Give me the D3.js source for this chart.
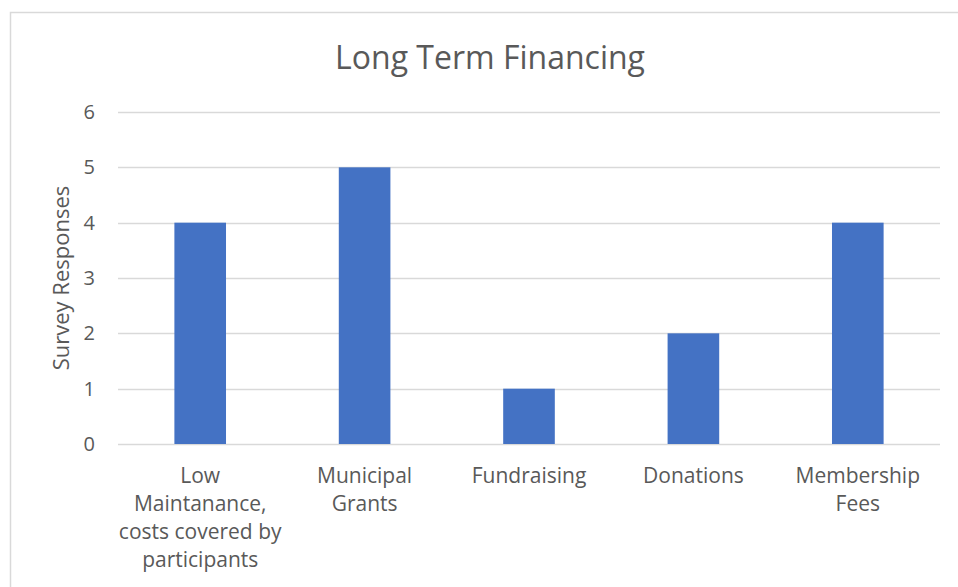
<!DOCTYPE html>
<html>
<head>
<meta charset="utf-8">
<script src="https://d3js.org/d3.v7.min.js"></script>
<style>
  body { margin: 0; background: #fff; }
  text { font-family: "Open Sans", sans-serif; fill: #595959; }
</style>
</head>
<body>
<div id="chart"></div>
<script>
var categories = [
  ["Low", "Maintanance,", "costs covered by", "participants"],
  ["Municipal", "Grants"],
  ["Fundraising"],
  ["Donations"],
  ["Membership", "Fees"]
];
var responses = [4, 5, 1, 2, 4];
var yTicks = [0, 1, 2, 3, 4, 5, 6];

var W = 958, H = 587;
var margin = {top: 112, right: 18, bottom: 143, left: 118},
    width = W - margin.left - margin.right,
    height = H - margin.top - margin.bottom;

var svg = d3.select("#chart").append("svg")
  .attr("width", W).attr("height", H);

// chart border
svg.append("rect")
  .attr("x", 10.5).attr("y", 12.5)
  .attr("width", W).attr("height", H)
  .attr("fill", "none").attr("stroke", "#d9d9d9").attr("stroke-width", 1.5);

svg.append("text")
  .attr("x", 490).attr("y", 69)
  .attr("text-anchor", "middle")
  .style("font-size", "32px")
  .text("Long Term Financing");

var g = svg.append("g")
  .attr("transform", "translate(" + margin.left + "," + margin.top + ")");

var idx = d3.range(categories.length);
var x = d3.scaleBand().domain(idx).range([0, width]).paddingInner(0.686).paddingOuter(0.343);
var y = d3.scaleLinear().domain([0, 6]).range([height, 0]);

// gridlines
g.selectAll(".grid").data(yTicks).enter().append("line")
  .attr("x1", 0).attr("x2", width)
  .attr("y1", function(d) { return Math.round(y(d)) + 0.5; })
  .attr("y2", function(d) { return Math.round(y(d)) + 0.5; })
  .attr("stroke", "#d9d9d9").attr("stroke-width", 1.3);

var yAxis = g.append("g").call(d3.axisLeft(y).tickValues(yTicks).tickFormat(d3.format("d")).tickSize(0).tickPadding(23));
yAxis.select(".domain").remove();
yAxis.selectAll("text").style("font-size", "20px").style("fill", "#595959").style("font-family", "Open Sans");

g.selectAll(".bar").data(responses).enter().append("rect")
  .attr("x", function(d, i) { return x(i); })
  .attr("y", function(d) { return y(d); })
  .attr("width", x.bandwidth())
  .attr("height", function(d) { return height - y(d); })
  .attr("fill", "#4472c4");

// category labels
var lab = g.selectAll(".cat").data(categories).enter().append("text")
  .attr("text-anchor", "middle")
  .attr("transform", function(d, i) { return "translate(" + (x(i) + x.bandwidth() / 2) + "," + (height + 39) + ")"; })
  .style("font-size", "21px");
lab.selectAll("tspan").data(function(d) { return d; }).enter().append("tspan")
  .attr("x", 0)
  .attr("dy", function(d, i) { return i === 0 ? 0 : 28; })
  .text(function(d) { return d; });

svg.append("text")
  .attr("transform", "translate(69," + (margin.top + height / 2) + ") rotate(-90)")
  .attr("text-anchor", "middle")
  .style("font-size", "22px")
  .text("Survey Responses");
</script>
</body>
</html>
